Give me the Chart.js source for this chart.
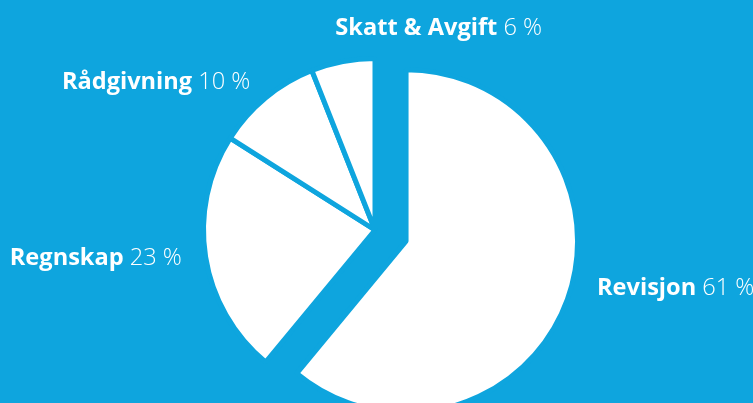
<!DOCTYPE html>
<html>
<head>
<meta charset="utf-8">
<script src="https://cdn.jsdelivr.net/npm/chart.js@4"></script>
<style>
    html, body { margin: 0; padding: 0; background: #0ea5de; overflow: hidden; }
    canvas { display: block; }
</style>
</head>
<body>
<canvas id="ShareChart" width="753" height="403"></canvas>
<script>
const categories = ["Revisjon", "Regnskap", "Rådgivning", "Skatt & Avgift"];
const shares = [61, 23, 10, 6];
const explode = [33, 0, 0, 0];

const BLUE = "#0ea5de";
const FONT_SIZE = 23.6;

function ShareChart() {
    const ctx = document.getElementById("ShareChart");

    new Chart(ctx, {
        type: "pie",
        data: {
            labels: categories,
            datasets: [
                {
                    data: shares,
                    backgroundColor: "#ffffff",
                    borderColor: BLUE,
                    borderWidth: 5,
                    hoverOffset: 0,
                    radius: 171.5,
                },
            ],
        },
        options: {
            responsive: false,
            animation: false,
            layout: {
                padding: { left: 0, right: 3, top: 57, bottom: 0 },
            },
            plugins: {
                legend: { display: false },
                tooltip: { enabled: false },
                sliceLabels: {
                    gap: 24,
                    nudge: [[7, -19], [0, -2], [0, 3], [-3, -10]],
                },
            },
        },
        plugins: [
            {
                // pull slices out along their middle angle (Chart.js offset also grows the radius)
                id: "explodeSlices",
                afterDatasetUpdate(chart, args) {
                    args.meta.data.forEach((arc, i) => {
                        const d = explode[i] || 0;
                        if (!d) return;
                        const mid = (arc.startAngle + arc.endAngle) / 2;
                        arc.x += Math.cos(mid) * d;
                        arc.y += Math.sin(mid) * d;
                    });
                },
            },
            {
                id: "sliceLabels",
                afterDraw(chart, args, opts) {
                    const ctx = chart.ctx;
                    const meta = chart.getDatasetMeta(0);
                    const bold = "bold " + FONT_SIZE + "px 'Open Sans'";
                    const light = "300 " + FONT_SIZE + "px 'Open Sans'";
                    ctx.save();
                    ctx.textBaseline = "middle";
                    ctx.textAlign = "left";
                    ctx.fillStyle = "#ffffff";
                    meta.data.forEach((arc, i) => {
                        const mid = (arc.startAngle + arc.endAngle) / 2;
                        const dx = Math.cos(mid);
                        const dy = Math.sin(mid);
                        const r = arc.outerRadius + opts.gap;
                        const n = opts.nudge[i] || [0, 0];
                        const x = arc.x + dx * r + n[0];
                        const y = arc.y + dy * r + n[1];

                        const name = categories[i];
                        const pct = " " + shares[i] + " %";
                        ctx.font = bold;
                        const w1 = ctx.measureText(name).width;
                        ctx.font = light;
                        const w2 = ctx.measureText(pct).width;

                        const left = dx < -0.3 ? x - w1 - w2 : x;

                        ctx.font = bold;
                        ctx.fillText(name, left, y);
                        ctx.font = light;
                        ctx.fillText(pct, left + w1, y);
                    });
                    ctx.restore();
                },
            },
        ],
    });
}

ShareChart();
</script>
</body>
</html>
